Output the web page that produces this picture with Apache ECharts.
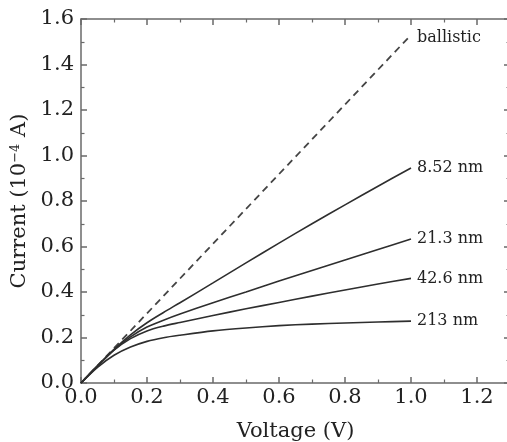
<!DOCTYPE html>
<html>
<head>
<meta charset="utf-8">
<script src="https://cdn.jsdelivr.net/npm/echarts@6/dist/echarts.min.js"></script>
<style>
html,body{margin:0;padding:0;background:#fff;}
#main{width:507px;height:442px;}
</style>
</head>
<body>
<div id="main"></div>
<script>
// Data
const voltage = [0, 0.05, 0.1, 0.15, 0.2, 0.25, 0.3, 0.4, 0.5, 0.6, 0.7, 0.8, 0.9, 1.0];
const i_852 = [0, 0.075, 0.148, 0.212, 0.265, 0.310, 0.353, 0.440, 0.528, 0.615, 0.700, 0.783, 0.865, 0.945];
const i_213 = [0, 0.075, 0.146, 0.203, 0.246, 0.276, 0.303, 0.353, 0.400, 0.448, 0.495, 0.541, 0.587, 0.633];
const i_426 = [0, 0.075, 0.144, 0.195, 0.229, 0.250, 0.266, 0.297, 0.326, 0.354, 0.382, 0.409, 0.435, 0.460];
const i_2130 = [0, 0.069, 0.122, 0.158, 0.183, 0.199, 0.210, 0.229, 0.242, 0.252, 0.259, 0.264, 0.268, 0.272];
const ballisticV = [0, 1.0];
const ballisticI = [0, 1.53];
const seriesNames = ['8.52 nm', '21.3 nm', '42.6 nm', '213 nm'];
const xTicks = { min: 0, max: 1.3, interval: 0.2 };
const yTicks = { min: 0, max: 1.6, interval: 0.2 };

const FONT = 'DejaVu Serif';
const AXIS_COLOR = '#6a6a6a';
const LINE_COLOR = '#2e2e2e';

function pairs(xs, ys) { return xs.map((x, i) => [x, ys[i]]); }

function axisCommon() {
  return {
    axisLine: { show: true, onZero: false, lineStyle: { color: AXIS_COLOR, width: 1.5 } },
    axisTick: { show: true, inside: true, length: 6, lineStyle: { color: AXIS_COLOR, width: 1.5 } },
    minorTick: { show: true, splitNumber: 2, length: 3.5, lineStyle: { color: AXIS_COLOR, width: 1.2 } },
    splitLine: { show: false }
  };
}

function fmt(v) { return v.toFixed(1); }

const chart = echarts.init(document.getElementById('main'), null, { renderer: 'canvas' });

const solidSets = [i_852, i_213, i_426, i_2130];

const series = solidSets.map((arr, k) => ({
  type: 'line',
  name: seriesNames[k],
  data: pairs(voltage, arr),
  showSymbol: false,
  symbol: 'none',
  smooth: 0.3,
  lineStyle: { color: LINE_COLOR, width: 1.6 },
  endLabel: {
    show: true,
    formatter: seriesNames[k],
    distance: 6,
    color: '#222',
    fontFamily: FONT,
    fontSize: 16
  },
  z: 3
}));

series.push({
  type: 'line',
  name: 'ballistic',
  data: pairs(ballisticV, ballisticI),
  showSymbol: false,
  symbol: 'none',
  lineStyle: { color: '#444', width: 1.8, type: [7, 5] },
  endLabel: {
    show: true,
    formatter: 'ballistic',
    distance: 6,
    color: '#222',
    fontFamily: FONT,
    fontSize: 16,
    offset: [0, 3]
  },
  z: 2
});

chart.setOption({
  animation: false,
  backgroundColor: '#fff',
  grid: { left: 81, top: 19, width: 429, height: 364, containLabel: false, outerBoundsMode: 'none' },
  xAxis: [
    Object.assign(axisCommon(), {
      type: 'value', position: 'bottom',
      min: xTicks.min, max: xTicks.max, interval: xTicks.interval,
      name: 'Voltage (V)', nameLocation: 'middle', nameGap: 38,
      nameTextStyle: { fontFamily: FONT, fontSize: 21, color: '#222' },
      axisLabel: { formatter: fmt, fontFamily: FONT, fontSize: 21, color: '#222', margin: 4, showMaxLabel: false }
    }),
    Object.assign(axisCommon(), {
      type: 'value', position: 'top',
      min: xTicks.min, max: xTicks.max, interval: xTicks.interval,
      axisLabel: { show: false }
    })
  ],
  yAxis: [
    Object.assign(axisCommon(), {
      type: 'value', position: 'left',
      min: yTicks.min, max: yTicks.max, interval: yTicks.interval,
      name: 'Current (10{sup|−4} A)', nameLocation: 'middle', nameGap: 46,
      nameTextStyle: {
        fontFamily: FONT, fontSize: 21, color: '#222',
        rich: { sup: { fontFamily: FONT, fontSize: 13, color: '#222', verticalAlign: 'top' } }
      },
      axisLabel: { formatter: fmt, fontFamily: FONT, fontSize: 21, color: '#222', margin: 7 }
    }),
    Object.assign(axisCommon(), {
      type: 'value', position: 'right',
      min: yTicks.min, max: yTicks.max, interval: yTicks.interval,
      axisLabel: { show: false }
    })
  ],
  series: series
});
</script>
</body>
</html>
